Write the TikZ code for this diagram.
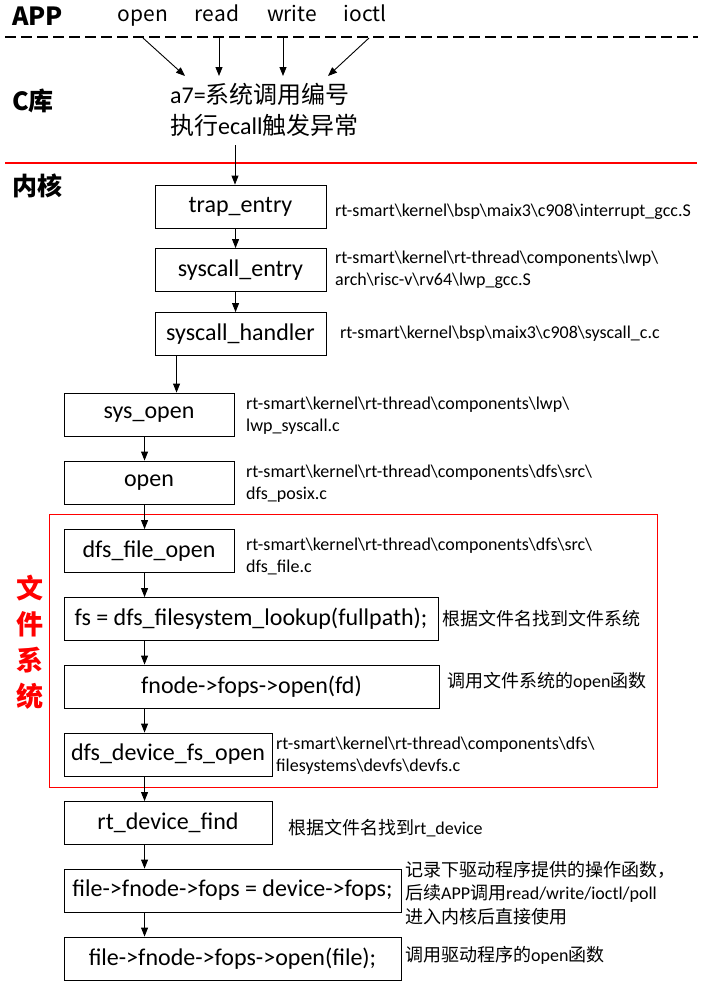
\documentclass[tikz,border=0pt]{standalone}
\usepackage{fontspec}
\setmainfont{Carlito}
\newfontfamily\cjk{Noto Sans CJK SC}
\usetikzlibrary{arrows.meta, positioning}
\newcommand{\zh}[1]{{\cjk #1}}
\newcommand{\bsl}{\textbackslash}

\tikzset{
  funcbox/.style = {draw, line width=0.9pt, minimum height=43pt, inner sep=2pt,
                    font=\fontsize{24}{28}\selectfont},
  note/.style = {anchor=west, align=left, inner sep=0pt,
                 font=\fontsize{18}{22}\selectfont},
  layer/.style = {anchor=west, inner sep=0pt, font=\fontsize{25}{28}\selectfont\bfseries\cjk},
  call/.style = {anchor=base, inner sep=0pt, font=\fontsize{21}{24}\selectfont\cjk},
  flow/.style = {->, line width=0.9pt},
}

\begin{document}
\begin{tikzpicture}[x=1pt, y=-1pt, >={Triangle[length=9pt,width=7pt]}]
  \useasboundingbox (0,0) rectangle (703,985);

  % layers
  \node[layer] (app) at (12,16) {APP};
  \node[layer] (clib) at (12,101) {C库};
  \node[layer] (kern) at (12,186) {内核};
  \draw[line width=1.4pt, dash pattern=on 11pt off 5pt] (5,37) -- (698,37);
  \fill[red] (5,162.2) rectangle (697,164.2);

  % user calls
  \node[call] (uopen) at (143,21) {open};
  \node[call] (uread) at (217,21) {read};
  \node[call] (uwrite) at (292,21) {write};
  \node[call] (uioctl) at (365,21) {ioctl};
  \node[anchor=north west, align=left, inner sep=0pt,
        font=\fontsize{24}{31}\selectfont] (ecall) at (170,83)
        {a7=\zh{系统调用编号}\\\zh{执行}ecall\zh{触发异常}};
  \coordinate (eo) at (185,76);
  \coordinate (er) at (219,76);
  \coordinate (ew) at (283,76);
  \coordinate (ei) at (328,76);
  \draw[flow] (uopen.south |- 0,38) -- (eo);
  \draw[flow] (219,38) -- (er);
  \draw[flow] (283,38) -- (ew);
  \draw[flow] (369,38) -- (ei);

  % kernel
  \node[funcbox, minimum width=171pt] (trap) at (240.5,206.5) {trap\_entry};
  \node[funcbox, minimum width=171pt] (sysentry) at (240.5,270) {syscall\_entry};
  \node[funcbox, minimum width=171pt] (handler) at (240.5,334) {syscall\_handler};
  \node[funcbox, minimum width=170pt] (sysopen) at (149,414.5) {sys\_open};
  \node[funcbox, minimum width=170pt] (open) at (149,482.5) {open};
  \node[funcbox, minimum width=170pt] (dfsopen) at (149,551) {dfs\_file\_open};
  \node[funcbox, minimum width=374pt] (lookup) at (251,619) {fs = dfs\_filesystem\_lookup(fullpath);};
  \node[funcbox, minimum width=375pt] (fsopen) at (251.5,686.5) {fnode->fops->open(fd)};
  \node[funcbox, minimum width=208pt] (devfs) at (168,754.5) {dfs\_device\_fs\_open};
  \node[funcbox, minimum width=208pt] (find) at (168,823) {rt\_device\_find};
  \node[funcbox, minimum width=337pt] (setfops) at (232.5,890.5) {file->fnode->fops = device->fops;};
  \node[funcbox, minimum width=337pt] (drvopen) at (232.5,958.5) {file->fnode->fops->open(file);};

  % file system frame
  \draw[red, line width=0.9pt] (49,514) rectangle (657,787);
  \node[red, align=center, inner sep=0pt, font=\fontsize{27}{36}\selectfont\bfseries\cjk]
        (fsname) at (30,642) {文\\件\\系\\统};

  % notes
  \node[note] (ntrap) at (335,212) {rt-smart\bsl kernel\bsl bsp\bsl maix3\bsl c908\bsl interrupt\_gcc.S};
  \node[note] (nentry) at (335,270) {rt-smart\bsl kernel\bsl rt-thread\bsl components\bsl lwp\bsl\\arch\bsl risc-v\bsl rv64\bsl lwp\_gcc.S};
  \node[note] (nhandler) at (340,334) {rt-smart\bsl kernel\bsl bsp\bsl maix3\bsl c908\bsl syscall\_c.c};
  \node[note] (nsysopen) at (246,416) {rt-smart\bsl kernel\bsl rt-thread\bsl components\bsl lwp\bsl\\lwp\_syscall.c};
  \node[note] (nopen) at (246,484) {rt-smart\bsl kernel\bsl rt-thread\bsl components\bsl dfs\bsl src\bsl\\dfs\_posix.c};
  \node[note] (ndfsopen) at (246,556) {rt-smart\bsl kernel\bsl rt-thread\bsl components\bsl dfs\bsl src\bsl\\dfs\_file.c};
  \node[note] (nlookup) at (442,619) {\zh{根据文件名找到文件系统}};
  \node[note] (nfsopen) at (447,681) {\zh{调用文件系统的}open\zh{函数}};
  \node[note] (ndevfs) at (276,756) {rt-smart\bsl kernel\bsl rt-thread\bsl components\bsl dfs\bsl\\filesystems\bsl devfs\bsl devfs.c};
  \node[note] (nfind) at (288,828) {\zh{根据文件名找到}rt\_device};
  \node[note, font=\fontsize{18}{23.5}\selectfont] (nsetfops) at (405,893) {\zh{记录下驱动程序提供的操作函数，}\\\zh{后续}APP\zh{调用}read/write/ioctl/poll\\\zh{进入内核后直接使用}};
  \node[note] (ndrvopen) at (405,955) {\zh{调用驱动程序的}open\zh{函数}};

  % connectors
  \coordinate (ecallout) at (235,145);
  \draw[flow] (ecallout) -- (ecallout |- trap.north);
  \foreach \a/\b in {trap/sysentry, sysentry/handler}
    \draw[flow] ([xshift=81pt]\a.south west) -- ([xshift=81pt]\b.north west);
  \draw[flow] ([xshift=22pt]handler.south west) -- ([xshift=113pt]sysopen.north west);
  \foreach \a/\b in {sysopen/open, open/dfsopen, dfsopen/lookup, lookup/fsopen,
                     fsopen/devfs, devfs/find, find/setfops, setfops/drvopen}
    \draw[flow] ([xshift=81pt]\a.south west) -- ([xshift=81pt]\b.north west);
\end{tikzpicture}
\end{document}
